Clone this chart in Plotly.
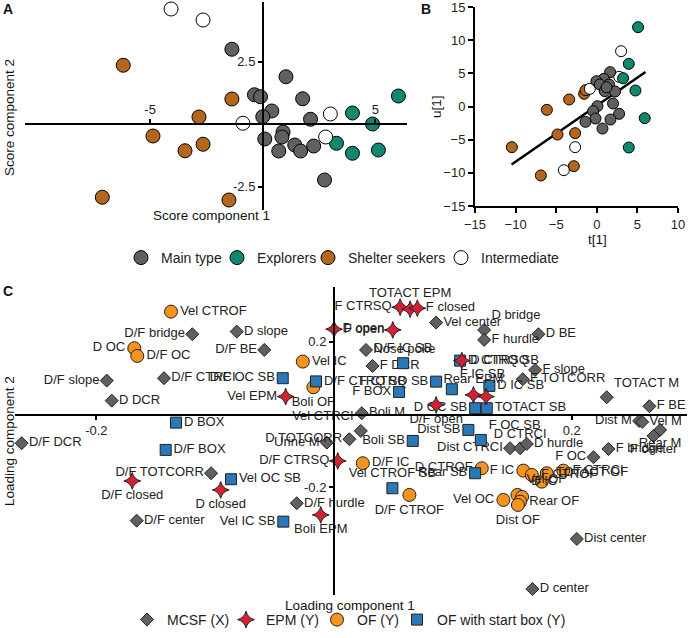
import plotly.graph_objects as go

W, H = 688, 638
FONT = "Liberation Sans, Arial, sans-serif"

# ---------------- Panel A : scores ----------------
a_main_x = [-1.37, 1.03, -0.37, -0.10, 1.77, 0.40, 0.00, 2.12, 0.90, 0.85, 0.09, 1.42, 0.71, 1.68, 2.26, 2.74]
a_main_y = [2.99, 1.89, 1.17, 1.09, 1.01, 0.52, 0.29, 0.19, -0.32, -0.52, -0.60, -0.84, -1.08, -1.08, -0.88, -2.24]
a_expl_x = [6.02, 3.98, 4.87, 3.27, 3.98, 5.13]
a_expl_y = [1.12, 0.44, 0.00, -0.77, -1.17, -1.04]
a_shel_x = [-6.19, -1.37, -2.83, -4.87, -3.45, -2.65, -10.6, -7.12, -1.50]
a_shel_y = [2.35, 1.00, 0.28, -0.48, -1.07, -0.81, -3.07, -2.93, -3.04]
a_int_x = [-4.07, -2.65, -0.88, 3.00, 2.79]
a_int_y = [4.60, 4.16, 0.03, 0.40, -0.52]

# ---------------- Panel B : t[1] vs u[1] ----------------
b_main_x = [1.64, 0.86, -0.04, 0.37, 1.51, 0.98, 2.25, 0.08, 2.00, -0.45, -0.16, 2.75, -1.39, 1.68, 0.70, 1.20]
b_main_y = [5.18, 4.17, 3.82, 3.32, 3.32, 2.31, 2.26, 0.05, 0.45, -0.70, -1.81, -1.10, -2.31, -1.96, -3.32, 2.90]
b_expl_x = [5.08, 3.94, 3.24, 4.76, 5.90, 3.94]
b_expl_y = [11.96, 6.43, 4.27, 2.41, -1.76, -6.18]
b_shel_x = [-10.46, -6.15, -3.40, -4.84, -2.67, -1.56, -1.39, -6.89, -2.83]
b_shel_y = [-6.13, -0.50, 1.06, -4.22, -4.02, 1.91, 2.46, -10.40, -9.00]
b_int_x = [2.99, 2.75, -0.86, -2.67, -4.06]
b_int_y = [8.34, 4.47, 2.67, -6.13, -9.60]
fit_x = [-10.5, 6.0]
fit_y = [-8.75, 5.2]

# ---------------- Panel C : loadings ----------------
mcsf_names = ["D/F bridge", "D slope", "D/F BE", "D/F slope", "D/F CTRCI", "D DCR", "D/F DCR",
              "D/F TOTCORR", "D/F center", "D/F hurdle", "Urine M", "D TOTCORR", "Vel CTRCI", "Boli M",
              "Vel center", "D bridge", "F hurdle", "D BE", "Nose poke", "F DCR", "F slope", "F TOTCORR",
              "TOTACT M", "F BE", "Dist M", "Vel M", "Rear M", "F center", "F bridge", "F OC",
              "Dist CTRCI", "D CTRCI", "D hurdle", "Dist center", "D center"]
mcsf_x = [-0.1193, -0.0819, -0.0587, -0.1913, -0.1431, -0.1871, -0.2629,
          -0.1035, -0.1661, -0.0314, -0.0061, 0.0129, 0.0225, 0.0233,
          0.0859, 0.1263, 0.1263, 0.1720, 0.0269, 0.0324, 0.1692, 0.1588,
          0.2295, 0.2654, 0.2567, 0.2593, 0.2744, 0.2688, 0.2309, 0.2183,
          0.1481, 0.1566, 0.1622, 0.2043, 0.1669]
mcsf_y = [0.2203, 0.2275, 0.1772, 0.0929, 0.0995, 0.0379, -0.0791,
          -0.1615, -0.2918, -0.2440, -0.0775, -0.0681, -0.0453, 0.0033,
          0.2522, 0.2321, 0.2047, 0.2203, 0.1772, 0.1332, 0.1223, 0.0967,
          0.0473, 0.0225, -0.0179, -0.0206, -0.0426, -0.0591, -0.0948, -0.1176,
          -0.0929, -0.0929, -0.0810, -0.3420, -0.4794]
mcsf_pos = ["l", "r", "l", "l", "r", "r", "r",
            "l", "r", "r", "l", "l", "tl", "r",
            "r", "tr", "r", "r", "r", "r", "r", "r",
            "tr", "r", "l", "r", "b", "b", "r", "l",
            "l", "t", "r", "r", "r"]

epm_names = ["F CTRSQ", "TOTACT EPM", "F closed", "D open", "F open", "Vel EPM", "D CTRSQ",
             "Rear EPM", "", "D/F open", "D/F CTRSQ", "D/F closed", "D closed", "Boli EPM"]
epm_x = [0.0556, 0.0640, 0.0701, 0.0000, 0.0494, -0.0407, 0.1075,
         0.1173, 0.1279, 0.0859, 0.0031, -0.1698, -0.0954, -0.0112]
epm_y = [0.2945, 0.2890, 0.2918, 0.2341, 0.2321, 0.0489, 0.1478,
         0.0536, 0.0489, 0.0261, -0.1277, -0.1827, -0.2074, -0.2761]
epm_pos = ["l", "t", "r", "r", "l", "l", "r", "t", "r", "b", "l", "b", "b", "b"]

of_names = ["Vel CTROF", "D OC", "D/F OC", "Vel IC", "Boli OF", "D/F IC", "D/F CTROF",
            "D CTROF", "F IC", "F CTROF", "", "TOTACT OF", "F CTRCI", "Vel OC",
            "Vel OF", "D IC", "Rear OF", "Dist OF"]
of_x = [-0.1372, -0.1681, -0.1656, -0.0263, -0.0174, 0.0242, 0.0634,
        0.1243, 0.1593, 0.1664, 0.1748, 0.1790, 0.1929, 0.1425,
        0.1543, 0.1582, 0.1566, 0.1547]
of_y = [0.2824, 0.1819, 0.1607, 0.1451, 0.0747, -0.1341, -0.2212,
        -0.1478, -0.1544, -0.1662, -0.1846, -0.1615, -0.1544, -0.2349,
        -0.2212, -0.2266, -0.2396, -0.2486]
of_pos = ["r", "l", "r", "r", "b", "r", "b",
          "l", "l", "r", "r", "r", "r", "l",
          "tr", "tr", "r", "b"]

sb_names = ["D/F OC SB", "D/F CTRQ SB", "D BOX", "D/F BOX", "Vel OC SB", "Vel IC SB", "D/F IC SB",
            "F BOX", "F CTRQ SB", "F IC SB", "D CTRQ SB", "D IC SB", "D OC SB", "TOTACT SB",
            "Dist SB", "F OC SB", "Boli SB", "Vel CTROF SB", "Rear SB"]
sb_x = [-0.0432, -0.0152, -0.1330, -0.1417, -0.0867, -0.0427, 0.0581,
        0.0547, 0.0859, 0.0991, 0.1061, 0.1307, 0.1187, 0.1285,
        0.1130, 0.1235, 0.0662, 0.0491, 0.1187]
sb_y = [0.0995, 0.0907, -0.0225, -0.0975, -0.1780, -0.2945, 0.1407,
        0.0618, 0.0901, 0.0692, 0.1478, 0.0783, 0.0170, 0.0170,
        -0.0426, -0.0701, -0.0728, -0.2027, -0.1615]
sb_pos = ["l", "r", "r", "r", "r", "l", "t",
          "l", "l", "tr", "r", "r", "l", "r",
          "l", "tr", "l", "t", "l"]

POS = {"l": "middle left", "r": "middle right", "t": "top center", "b": "bottom center",
       "tr": "top right", "tl": "top left"}

GRAY = "#606060"
GREEN = "#10876f"
BROWN = "#b3661c"
WHITE = "#ffffff"
ORANGE = "#f7931e"
BLUE = "#2a78b8"
RED = "#d42030"

def px_x(p):
    return p / W

def px_y(p):
    return 1 - p / H

fig = go.Figure()
LINE = dict(color="black", width=1)
LEGFONT = dict(family=FONT, size=14, color="#222222")
legends = {}

# Panel A traces (each with its own legend entry placed like the reference)
groups_a = [("Main type", a_main_x, a_main_y, GRAY, 141, "legend"),
            ("Explorers", a_expl_x, a_expl_y, GREEN, 237, "legend2"),
            ("Shelter seekers", a_shel_x, a_shel_y, BROWN, 328, "legend3"),
            ("Intermediate", a_int_x, a_int_y, WHITE, 461, "legend4")]
for name, xs, ys, col, lx, lg in groups_a:
    fig.add_trace(go.Scatter(x=xs, y=ys, mode="markers", name=name, xaxis="x", yaxis="y",
                             marker=dict(size=14, color=col, line=LINE), cliponaxis=False,
                             legend=lg, showlegend=True))
    legends[lg] = dict(x=px_x(lx - 20), y=px_y(258), xanchor="left", yanchor="middle",
                       font=LEGFONT, bgcolor="rgba(0,0,0,0)", itemsizing="trace",
                       borderwidth=0, orientation="h")

# Panel B
fig.add_trace(go.Scatter(x=fit_x, y=fit_y, mode="lines", xaxis="x2", yaxis="y2",
                         line=dict(color="black", width=2.5), showlegend=False))
groups_b = [(b_shel_x, b_shel_y, BROWN), (b_int_x, b_int_y, WHITE),
            (b_main_x, b_main_y, GRAY), (b_expl_x, b_expl_y, GREEN)]
for xs, ys, col in groups_b:
    fig.add_trace(go.Scatter(x=xs, y=ys, mode="markers", xaxis="x2", yaxis="y2",
                             marker=dict(size=11, color=col, line=LINE), cliponaxis=False,
                             showlegend=False))

# Panel C
TF = dict(family=FONT, size=13, color="#222222")
groups_c = [("MCSF (X)", mcsf_x, mcsf_y, mcsf_names, mcsf_pos, "diamond", 10, GRAY, 147, "legend5"),
            ("OF (Y)", of_x, of_y, of_names, of_pos, "circle", 13, ORANGE, 337, "legend7"),
            ("OF with start box (Y)", sb_x, sb_y, sb_names, sb_pos, "square", 11, BLUE, 417, "legend8"),
            ("EPM (Y)", epm_x, epm_y, epm_names, epm_pos, "star-diamond", 12, RED, 246, "legend6")]
for name, xs, ys, txt, pos, sym, sz, col, lx, lg in groups_c:
    fig.add_trace(go.Scatter(x=xs, y=ys, mode="markers+text", name=name, xaxis="x3", yaxis="y3",
                             text=txt, textposition=[POS[p] for p in pos], textfont=TF,
                             marker=dict(symbol=sym, size=sz, color=col,
                                         line=dict(color="#222222", width=1)),
                             cliponaxis=False, legend=lg, showlegend=True))
    legends[lg] = dict(x=px_x(lx - 20), y=px_y(620), xanchor="left", yanchor="middle",
                       font=LEGFONT, bgcolor="rgba(0,0,0,0)", itemsizing="trace",
                       borderwidth=0, orientation="h")

AX = dict(showgrid=False, zeroline=False, showline=True, linecolor="black", linewidth=2,
          ticks="outside", tickcolor="black", tickwidth=1.5, ticklen=4, automargin=False,
          ticklabeloverflow="allow",
          tickfont=dict(family=FONT, size=13, color="#222222"))

fig.update_layout(
    template="none",
    width=W, height=H, margin=dict(l=0, r=0, t=0, b=0, pad=0, autoexpand=False),
    paper_bgcolor="white", plot_bgcolor="rgba(0,0,0,0)",
    font=dict(family=FONT, size=13, color="#222222"),
    xaxis=dict(AX, domain=[px_x(25), px_x(407)], range=[-10.55, 6.4], anchor="free",
               position=px_y(124), side="top", tickvals=[-5, 5], ticktext=["-5", "5"]),
    yaxis=dict(AX, domain=[px_y(210), px_y(2)], range=[-3.44, 4.88], anchor="free",
               position=px_x(263), side="left", tickvals=[-2.5, 2.5], ticktext=["-2.5", "2.5"]),
    xaxis2=dict(AX, domain=[px_x(475), px_x(678)], range=[-15, 10], anchor="y2",
                tickvals=[-15, -10, -5, 0, 5, 10], ticklen=5, tickwidth=2),
    yaxis2=dict(AX, domain=[px_y(206), px_y(7)], range=[-15, 15], anchor="x2",
                tickvals=[-15, -10, -5, 0, 5, 10, 15], ticklen=5, tickwidth=2),
    xaxis3=dict(AX, domain=[px_x(15), px_x(687)], range=[-0.2685, 0.297], anchor="free",
                position=px_y(414.5), side="bottom", tickvals=[-0.2, 0.2], ticktext=["-0.2", "0.2"]),
    yaxis3=dict(AX, domain=[px_y(595), px_y(287)], range=[-0.496, 0.35], anchor="free",
                position=px_x(334), side="left", tickvals=[-0.2, 0.2], ticktext=["-0.2", "0.2"]),
    **legends,
)

ann = [
    ("A", 8, 9, 0, 14, True),
    ("B", 426, 9, 0, 14, True),
    ("C", 8, 291, 0, 14, True),
    ("Score component 1", 211, 215, 0, 13.5, False),
    ("Score component 2", 10, 118, -90, 13.5, False),
    ("t[1]", 597, 239, 0, 13.5, False),
    ("u[1]", 436, 107, -90, 13.5, False),
    ("Loading component 1", 350, 605, 0, 13.5, False),
    ("Loading component 2", 9, 441, -90, 13.5, False),
]
for text, x, y, ang, sz, bold in ann:
    fig.add_annotation(text=f"<b>{text}</b>" if bold else text, x=px_x(x), y=px_y(y),
                       xref="paper", yref="paper", showarrow=False, textangle=ang,
                       xanchor="center", yanchor="middle",
                       font=dict(family=FONT, size=sz, color="#111111"))

fig.write_html("out.html", config={"displayModeBar": False},
               post_script="document.body.style.margin='0';document.body.style.overflow='hidden';")
